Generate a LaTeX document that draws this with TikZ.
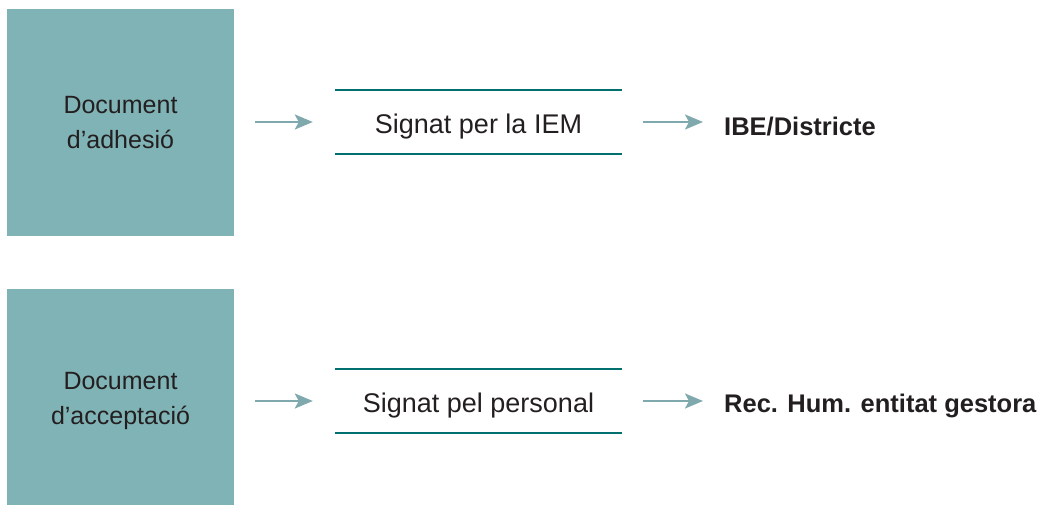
\documentclass[tikz,border=0pt]{standalone}
\usepackage{fontspec}
\setmainfont{Liberation Sans}
\usetikzlibrary{arrows.meta}
\definecolor{boxfill}{HTML}{80B3B5}
\definecolor{rulecol}{HTML}{00706F}
\definecolor{arrcol}{HTML}{7FA9AC}
\definecolor{txt}{HTML}{231F20}
\begin{document}
\begin{tikzpicture}[x=1pt,y=-1pt,
  docbox/.style={fill=boxfill, minimum width=227pt, minimum height=227pt, inner sep=0pt, align=center, text=txt, font=\fontsize{25}{35}\selectfont},
  doctext/.style={inner sep=0pt, align=center, text=txt, font=\fontsize{25}{35}\selectfont},
  signbox/.style={minimum width=287pt, minimum height=64pt, inner sep=0pt, text height=22pt, text depth=0pt, text=txt, font=\fontsize{27}{30}\selectfont},
  target/.style={anchor=west, inner sep=0pt, text=txt, font=\fontsize{25.5}{30}\selectfont\bfseries},
  flow/.style={draw=arrcol, line width=2.2pt, -{Stealth[length=18pt,width=15pt,inset=4pt]}},
  rule/.style={draw=rulecol, line width=2.5pt}]
\useasboundingbox (0,0) rectangle (1039,506);
\node[docbox] (d1) at (120.5,122.5) {Document\\d’adhesió};
\node[docbox, minimum height=216pt] (d2) at (120.5,397) {};
\node[doctext] (d2t) at (120.5,401) {Document\\d’acceptació};
\node[signbox] (s1) at (478.5,122) {Signat per la IEM};
\node[signbox] (s2) at (478.5,401) {Signat pel personal};
\draw[rule] (s1.north west) -- (s1.north east);
\draw[rule] (s1.south west) -- (s1.south east);
\draw[rule] (s2.north west) -- (s2.north east);
\draw[rule] (s2.south west) -- (s2.south east);
\node[target] (t1) at (724,126.5) {IBE/Districte};
\node[target] (t2) at (724,405.5) {Rec. Hum. entitat gestora};
\draw[flow, shorten <=21pt, shorten >=22pt] (d1.east |- s1.west) -- (s1.west);
\draw[flow, shorten <=21pt, shorten >=22pt] (d2.east |- s2.west) -- (s2.west);
\draw[flow, shorten <=21pt, shorten >=21pt] (s1.east) -- (s1.east -| t1.west);
\draw[flow, shorten <=21pt, shorten >=21pt] (s2.east) -- (s2.east -| t2.west);
\end{tikzpicture}
\end{document}
